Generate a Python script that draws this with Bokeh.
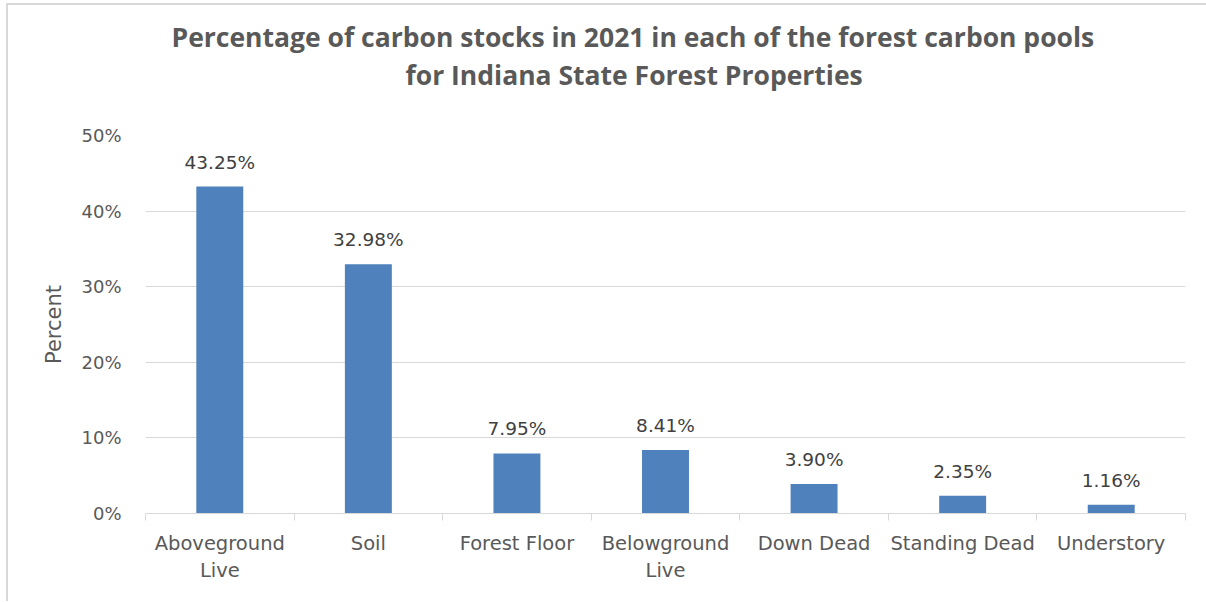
from bokeh.plotting import figure
from bokeh.models import FixedTicker, ColumnDataSource, Range1d, Title
from bokeh.core.properties import value
from bokeh.embed import file_html
from bokeh.resources import INLINE

categories = ["Aboveground\nLive", "Soil", "Forest Floor", "Belowground\nLive",
              "Down Dead", "Standing Dead", "Understory"]
percent_values = [43.25, 32.98, 7.95, 8.41, 3.90, 2.35, 1.16]
y_ticks = [0, 10, 20, 30, 40, 50]
y_tick_labels = ["0%", "10%", "20%", "30%", "40%", "50%"]
title_line1 = "Percentage of carbon stocks in 2021 in each of the forest carbon pools"
title_line2 = "for Indiana State Forest Properties"

xs = [i + 0.5 for i in range(len(categories))]
src = ColumnDataSource(dict(
    x=xs,
    top=percent_values,
    lbl=["%.2f%%" % v for v in percent_values],
))

p = figure(width=1198, height=596, output_backend="svg", toolbar_location=None,
           x_range=Range1d(0, len(categories)), y_range=Range1d(0, 50),
           min_border_left=137, min_border_right=21, min_border_top=130,
           min_border_bottom=88)
p.frame_width = 1040
p.frame_height = 378
p.margin = (3, 0, 0, 6)
p.styles = {"border-left": "2px solid #d9d9d9", "border-top": "2px solid #d9d9d9",
            "border-right": "0px none white", "border-bottom": "0px none white"}

p.outline_line_color = None
p.background_fill_color = "white"
p.border_fill_color = "white"

def make_title(txt, standoff, offset, size="26.5px"):
    return Title(text=txt, align="left", text_font="Open Sans", text_font_style="bold",
                 text_font_size=size, text_color="#595959", offset=offset, standoff=standoff)

p.title = make_title(title_line1, 0, 26)
p.add_layout(make_title(" ", 27, 0, "10px"), "above")   # spacer next to the frame
p.add_layout(make_title(title_line2, 0, 260), "above")

p.vbar(x="x", top="top", width=0.316, bottom=0, source=src,
       fill_color="#4f81bd", line_color=None)
p.text(x="x", y="top", text="lbl", source=src, text_align="center",
       text_baseline="bottom", y_offset=-14, text_font=value("DejaVu Sans"),
       text_font_size="18.5px", text_color="#404040")

# x axis
xa = p.xaxis[0]
xa.ticker = FixedTicker(ticks=xs, minor_ticks=list(range(len(categories) + 1)))
xa.major_label_overrides = {x: c for x, c in zip(xs, categories)}
xa.major_tick_out = 0
xa.major_tick_in = 0
xa.minor_tick_out = 7
xa.minor_tick_in = 0
xa.minor_tick_line_color = "#d9d9d9"
xa.axis_line_color = "#d9d9d9"
xa.major_label_text_font = "DejaVu Sans"
xa.major_label_text_font_size = "19.5px"
xa.major_label_text_color = "#595959"
xa.major_label_standoff = 11

# y axis
ya = p.yaxis[0]
ya.ticker = FixedTicker(ticks=y_ticks)
ya.major_label_overrides = {t: l for t, l in zip(y_ticks, y_tick_labels)}
ya.axis_line_color = None
ya.major_tick_line_color = None
ya.minor_tick_line_color = None
ya.major_label_text_font = "DejaVu Sans"
ya.major_label_text_font_size = "18px"
ya.major_label_text_color = "#595959"
ya.major_label_standoff = 18
ya.axis_label = "Percent"
ya.axis_label_text_font = "DejaVu Sans"
ya.axis_label_text_font_style = "normal"
ya.axis_label_text_font_size = "21px"
ya.axis_label_text_color = "#595959"
ya.axis_label_standoff = 12

p.xgrid.grid_line_color = None
p.ygrid.grid_line_color = "#d9d9d9"
p.ygrid.ticker = FixedTicker(ticks=y_ticks)

open("out.html", "w").write(file_html(p, INLINE))
